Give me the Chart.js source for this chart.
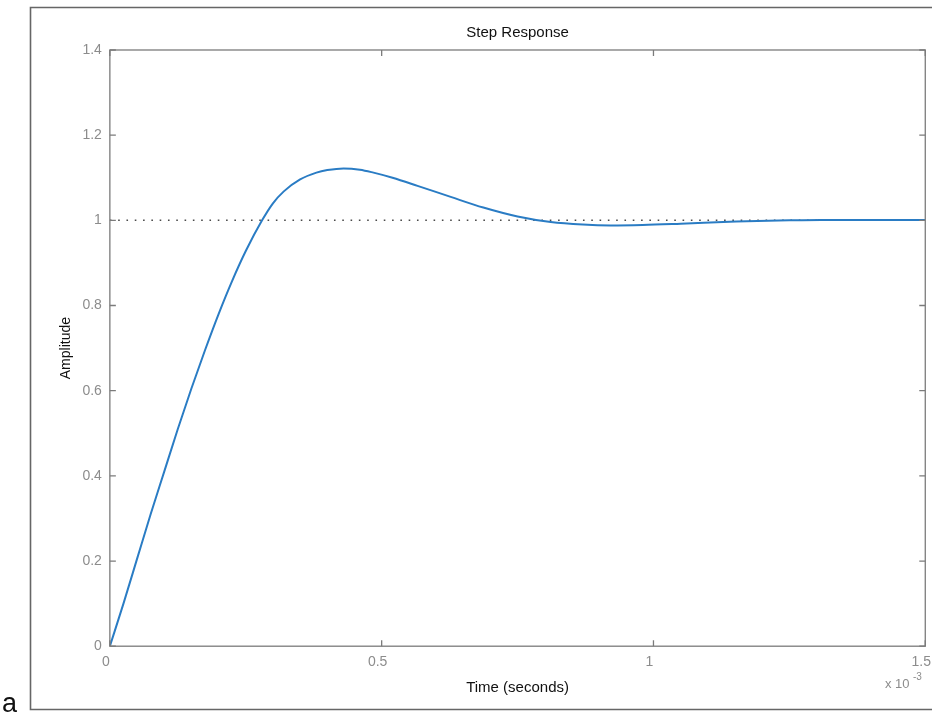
<!DOCTYPE html>
<html>
<head>
<meta charset="utf-8">
<title>Step Response</title>
<script src="https://cdn.jsdelivr.net/npm/chart.js@4.4.0/dist/chart.umd.min.js"></script>
<style>
  html, body { margin: 0; padding: 0; background: #ffffff; overflow: hidden; }
  #wrap { position: relative; width: 932px; height: 715px; overflow: hidden; }
</style>
</head>
<body>
<div id="wrap"><canvas id="c" width="943" height="715"></canvas></div>
<script>
// Step response samples; time is given in units of 1e-3 s (see the axis exponent)
const timeE3 = [0, 0.025, 0.05, 0.075, 0.1, 0.125, 0.15, 0.175, 0.2, 0.225,
                0.25, 0.28, 0.30, 0.32, 0.35, 0.38, 0.40, 0.43, 0.46, 0.485,
                0.52, 0.566, 0.627, 0.687, 0.75, 0.811, 0.87, 0.921, 0.98, 1.05,
                1.152, 1.25, 1.308, 1.4, 1.5];
const amplitude = [0, 0.100, 0.205, 0.310, 0.410, 0.510, 0.605, 0.695, 0.780, 0.858,
                   0.928, 1.000, 1.040, 1.068, 1.096, 1.112, 1.118, 1.122, 1.119, 1.112,
                   1.100, 1.081, 1.055, 1.030, 1.009, 0.996, 0.990, 0.988, 0.989, 0.992,
                   0.997, 1.000, 1.001, 1.001, 1.001];
const steadyState = 1;
const xTickValues = [0, 0.5, 1, 1.5];
const yTickValues = [0, 0.2, 0.4, 0.6, 0.8, 1, 1.2, 1.4];
const xExponent = '-3';

const FONT = "'Liberation Sans', Arial, Helvetica, sans-serif";
const AXIS_GRAY = '#7b7b7b';
const LABEL_GRAY = '#8c8c8c';
const VIEW_WIDTH = 932;

// Box around the axes, inward tick marks on all four sides, the x10^-3 exponent,
// and the outer figure frame with its panel letter.
const axesDecor = {
  id: 'axesDecor',
  beforeDraw(chart) {
    const { ctx, width, height } = chart;
    ctx.save();
    ctx.fillStyle = '#ffffff';
    ctx.fillRect(0, 0, width, height);
    ctx.restore();
  },
  afterDraw(chart) {
    const { ctx, chartArea: a, scales: { x, y } } = chart;
    const tl = 6;
    ctx.save();
    ctx.strokeStyle = AXIS_GRAY;
    ctx.lineWidth = 1.3;
    ctx.strokeRect(a.left, a.top, a.right - a.left, a.bottom - a.top);
    ctx.beginPath();
    x.ticks.forEach(t => {
      const px = x.getPixelForValue(t.value);
      ctx.moveTo(px, a.bottom); ctx.lineTo(px, a.bottom - tl);
      ctx.moveTo(px, a.top); ctx.lineTo(px, a.top + tl);
    });
    y.ticks.forEach(t => {
      const py = y.getPixelForValue(t.value);
      ctx.moveTo(a.left, py); ctx.lineTo(a.left + tl, py);
      ctx.moveTo(a.right, py); ctx.lineTo(a.right - tl, py);
    });
    ctx.stroke();

    // axis exponent
    ctx.fillStyle = LABEL_GRAY;
    ctx.textBaseline = 'alphabetic';
    ctx.textAlign = 'left';
    ctx.font = '13px ' + FONT;
    ctx.fillText('x 10', 885, 688);
    ctx.font = '10px ' + FONT;
    ctx.fillText(xExponent, 913, 680);

    // outer figure frame
    ctx.strokeStyle = '#666666';
    ctx.lineWidth = 1.6;
    ctx.beginPath();
    ctx.moveTo(VIEW_WIDTH + 2, 7.5);
    ctx.lineTo(30.5, 7.5);
    ctx.lineTo(30.5, 709.5);
    ctx.lineTo(VIEW_WIDTH + 2, 709.5);
    ctx.stroke();

    // panel letter
    ctx.fillStyle = '#111111';
    ctx.font = '27px ' + FONT;
    ctx.fillText('a', 2, 712);
    ctx.restore();
  }
};

const points = timeE3.map((t, i) => ({ x: t, y: amplitude[i] }));
const reference = [
  { x: xTickValues[0], y: steadyState },
  { x: xTickValues[xTickValues.length - 1], y: steadyState }
];
const plainNumber = v => String(+Number(v).toFixed(3));

new Chart(document.getElementById('c'), {
  type: 'line',
  data: {
    datasets: [
      {
        label: 'Step response',
        data: points,
        borderColor: '#2a7cc4',
        borderWidth: 2,
        pointRadius: 0,
        fill: false,
        cubicInterpolationMode: 'monotone'
      },
      {
        label: 'Steady state',
        data: reference,
        borderColor: '#4a4a4a',
        borderWidth: 1.5,
        borderDash: [1.6, 6.7],
        pointRadius: 0,
        fill: false
      }
    ]
  },
  options: {
    responsive: false,
    devicePixelRatio: 1,
    animation: false,
    events: [],
    layout: {
      autoPadding: false,
      padding: { left: 40, right: 0, top: 10, bottom: 18 }
    },
    plugins: {
      legend: { display: false },
      tooltip: { enabled: false },
      title: {
        display: true,
        fullSize: false,
        text: 'Step Response',
        color: '#111111',
        font: { family: FONT, size: 15, weight: 'normal' },
        padding: { top: 14, bottom: 8 }
      }
    },
    scales: {
      x: {
        type: 'linear',
        min: 0,
        max: 1.5,
        afterBuildTicks: s => { s.ticks = xTickValues.map(v => ({ value: v })); },
        grid: { display: false, drawTicks: false },
        border: { display: false },
        ticks: {
          color: LABEL_GRAY,
          font: { family: FONT, size: 14 },
          padding: 8,
          labelOffset: -4,
          maxRotation: 0,
          autoSkip: false,
          callback: plainNumber
        },
        title: {
          display: true,
          text: 'Time (seconds)',
          color: '#111111',
          font: { family: FONT, size: 15 },
          padding: { top: 0, bottom: 0 }
        }
      },
      y: {
        type: 'linear',
        min: 0,
        max: 1.4,
        afterBuildTicks: s => { s.ticks = yTickValues.map(v => ({ value: v })); },
        grid: { display: false, drawTicks: false },
        border: { display: false },
        ticks: {
          color: LABEL_GRAY,
          font: { family: FONT, size: 14 },
          padding: 8,
          autoSkip: false,
          callback: plainNumber
        },
        title: {
          display: true,
          text: 'Amplitude',
          color: '#111111',
          font: { family: FONT, size: 14 },
          padding: { top: 17.6, bottom: 0 }
        }
      }
    }
  },
  plugins: [axesDecor]
});
</script>
</body>
</html>
